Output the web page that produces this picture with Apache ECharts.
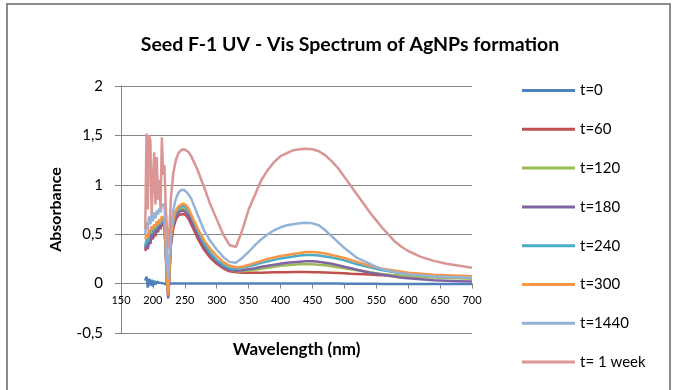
<!DOCTYPE html>
<html>
<head>
<meta charset="utf-8">
<script src="https://cdn.jsdelivr.net/npm/echarts@6/dist/echarts.min.js"></script>
<style>
  html, body { margin: 0; padding: 0; background: #fff; }
  #main { width: 673px; height: 390px; }
</style>
</head>
<body>
<div id="main"></div>
<script>
// wavelength (nm)
var wl = [188,190,192,194,196,198,200,202,204,206,208,210,212,214,216,218,220,222,224,226,
  228,232,236,240,244,248,252,256,260,270,280,290,300,310,320,330,340,350,360,370,380,390,
  400,410,420,430,440,450,460,470,480,490,500,510,520,530,540,550,560,570,580,590,600,
  620,640,660,680,700];

var t0 = [0.03,0.07,-0.04,0.05,-0.02,0.04,-0.03,0.03,-0.01,0.02,0.0,0.01,-0.005,0.005,0.0,0.0,0.0,-0.01,-0.06,0.0,
  0.0,0.0,0.0,0.0,0.0,0.0,0.0,0.0,0.0,0.0,0.0,0.0,0.0,0.0,0.0,0.0,0.0,0.0,0.0,0.0,0.0,0.0,
  0.0,0.0,0.0,0.0,0.0,0.0,0.0,0.0,0.0,0.0,-0.002,-0.002,-0.002,-0.002,-0.002,-0.002,-0.003,-0.003,-0.003,-0.003,-0.003,
  -0.004,-0.004,-0.004,-0.005,-0.005];

var t60 = [0.33,0.38,0.35,0.43,0.40,0.48,0.45,0.51,0.48,0.55,0.52,0.58,0.55,0.61,0.59,0.58,0.33,0.0,-0.12,0.08,
  0.38,0.56,0.65,0.69,0.70,0.705,0.69,0.655,0.60,0.46,0.345,0.26,0.20,0.155,0.125,0.115,0.11,0.11,0.11,0.11,0.112,0.114,
  0.115,0.116,0.117,0.117,0.117,0.116,0.115,0.113,0.11,0.107,0.104,0.1,0.097,0.094,0.091,0.088,0.085,0.082,0.08,0.078,0.076,
  0.072,0.07,0.068,0.066,0.065];

var t120 = [0.36,0.42,0.39,0.47,0.45,0.52,0.49,0.55,0.52,0.59,0.56,0.62,0.59,0.65,0.63,0.62,0.36,0.02,-0.10,0.12,
  0.42,0.61,0.70,0.74,0.755,0.76,0.745,0.715,0.665,0.52,0.395,0.30,0.23,0.175,0.14,0.125,0.125,0.13,0.14,0.15,0.16,0.17,
  0.18,0.185,0.19,0.195,0.195,0.195,0.19,0.185,0.175,0.165,0.155,0.145,0.135,0.125,0.115,0.105,0.095,0.09,0.085,0.08,0.075,
  0.068,0.062,0.058,0.054,0.05];

var t180 = [0.35,0.40,0.36,0.45,0.42,0.50,0.47,0.53,0.50,0.57,0.54,0.60,0.57,0.63,0.61,0.60,0.35,0.0,-0.15,0.1,
  0.40,0.59,0.68,0.72,0.735,0.74,0.72,0.69,0.64,0.50,0.38,0.29,0.22,0.17,0.14,0.13,0.135,0.145,0.155,0.17,0.18,0.19,
  0.20,0.21,0.215,0.22,0.225,0.225,0.22,0.21,0.20,0.185,0.17,0.155,0.14,0.125,0.11,0.10,0.09,0.08,0.07,0.06,0.055,
  0.045,0.035,0.03,0.025,0.02];

var t240 = [0.38,0.45,0.42,0.50,0.48,0.55,0.52,0.58,0.55,0.61,0.58,0.63,0.60,0.66,0.64,0.63,0.38,0.05,-0.08,0.15,
  0.44,0.63,0.72,0.76,0.78,0.785,0.77,0.74,0.69,0.54,0.41,0.31,0.24,0.19,0.155,0.15,0.16,0.175,0.19,0.21,0.225,0.24,
  0.255,0.265,0.275,0.285,0.29,0.29,0.285,0.275,0.265,0.25,0.235,0.215,0.195,0.18,0.165,0.15,0.135,0.125,0.115,0.105,0.1,
  0.09,0.08,0.075,0.07,0.065];

var t300 = [0.45,0.50,0.47,0.55,0.52,0.58,0.55,0.60,0.57,0.63,0.60,0.65,0.62,0.68,0.66,0.65,0.40,0.05,-0.12,0.15,
  0.45,0.65,0.74,0.78,0.80,0.81,0.79,0.76,0.70,0.56,0.44,0.35,0.28,0.22,0.18,0.165,0.17,0.19,0.21,0.23,0.25,0.265,
  0.28,0.29,0.30,0.31,0.32,0.32,0.315,0.305,0.29,0.275,0.26,0.24,0.22,0.20,0.18,0.165,0.15,0.14,0.13,0.12,0.11,
  0.10,0.09,0.085,0.08,0.075];

var t1440 = [0.50,0.62,0.55,0.68,0.60,0.70,0.63,0.72,0.66,0.74,0.70,0.76,0.72,0.80,0.78,0.80,0.55,0.25,0.05,0.30,
  0.55,0.75,0.86,0.92,0.945,0.95,0.93,0.90,0.86,0.70,0.54,0.43,0.345,0.27,0.22,0.21,0.26,0.32,0.39,0.45,0.50,0.54,
  0.57,0.59,0.60,0.61,0.615,0.61,0.59,0.54,0.48,0.42,0.36,0.31,0.26,0.23,0.20,0.17,0.145,0.13,0.115,0.105,0.095,
  0.085,0.075,0.07,0.065,0.06];

var tWeek = [0.55,1.52,0.75,1.50,1.45,0.70,1.05,1.33,0.80,1.28,0.85,1.05,0.75,1.48,1.10,1.20,0.80,0.55,0.35,0.55,
  0.85,1.12,1.25,1.32,1.35,1.36,1.35,1.33,1.29,1.15,0.98,0.80,0.65,0.50,0.39,0.37,0.54,0.75,0.90,1.05,1.15,1.23,
  1.29,1.32,1.35,1.36,1.365,1.36,1.34,1.30,1.24,1.17,1.08,0.99,0.90,0.81,0.72,0.64,0.56,0.49,0.42,0.37,0.33,
  0.27,0.23,0.20,0.18,0.16];

var names = ['t=0','t=60','t=120','t=180','t=240','t=300','t=1440','t= 1 week'];
var values = [t0, t60, t120, t180, t240, t300, t1440, tWeek];
var colors = ['#4F81BD','#C0504D','#9BBB59','#8064A2','#4BACC6','#F79646','#95B3D7','#D99694'];

var yTicks = [-0.5, 0, 0.5, 1, 1.5, 2];
var xTicks = [150, 700, 50];

function pairs(ys) {
  return wl.map(function (x, i) { return [x, ys[i]]; });
}

var chart = echarts.init(document.getElementById('main'));
chart.setOption({
  backgroundColor: '#fff',
  animation: false,
  textStyle: { fontFamily: 'Lato' },
  title: {
    text: 'Seed F-1 UV - Vis Spectrum of AgNPs formation',
    left: 345, top: 30, textAlign: 'center',
    textStyle: { fontSize: 19.5, fontWeight: 'bold', color: '#000', fontFamily: 'Lato' }
  },
  graphic: [{
    type: 'rect', shape: { x: 7, y: 4, width: 663, height: 400 },
    style: { fill: null, stroke: '#8a8a8a', lineWidth: 2 }, silent: true
  }],
  legend: {
    orient: 'vertical', left: 517, top: 78,
    itemWidth: 53, itemHeight: 3, itemGap: 23.8,
    icon: 'rect',
    textStyle: { fontSize: 15, color: '#000' },
    data: names
  },
  grid: { left: 121, right: 201, top: 86, bottom: 57, outerBoundsMode: 'none', containLabel: false },
  xAxis: {
    type: 'value', min: xTicks[0], max: xTicks[1], interval: xTicks[2],
    offset: -49.4,
    name: 'Wavelength (nm)', nameLocation: 'middle', nameGap: 57, nameMoveOverlap: false,
    nameTextStyle: { fontSize: 17, fontWeight: 'bold', color: '#000' },
    axisLine: { onZero: false, lineStyle: { color: '#868686', width: 1 } },
    axisTick: { show: true, inside: false, length: 5, lineStyle: { color: '#868686' } },
    axisLabel: { fontSize: 11, color: '#000', margin: 11, showMinLabel: true, showMaxLabel: true },
    splitLine: { show: false }
  },
  yAxis: {
    type: 'value', min: yTicks[0], max: yTicks[yTicks.length - 1], interval: 0.5,
    name: 'Absorbance', nameLocation: 'middle', nameGap: 57,
    nameTextStyle: { fontSize: 16, fontWeight: 'bold', color: '#000' },
    axisLine: { show: true, lineStyle: { color: '#868686', width: 1 } },
    axisTick: { show: true, inside: false, length: 6, lineStyle: { color: '#868686' } },
    axisLabel: {
      fontSize: 15, color: '#000', margin: 18,
      formatter: function (v) { return String(v).replace('.', ','); }
    },
    splitLine: { show: true, lineStyle: { color: '#868686', width: 1 } }
  },
  series: names.map(function (n, i) {
    return {
      name: n, type: 'line', data: pairs(values[i]),
      symbol: 'none', smooth: false,
      lineStyle: { color: colors[i], width: 2.5 },
      itemStyle: { color: colors[i] },
      z: 2 + i
    };
  })
});
</script>
</body>
</html>
